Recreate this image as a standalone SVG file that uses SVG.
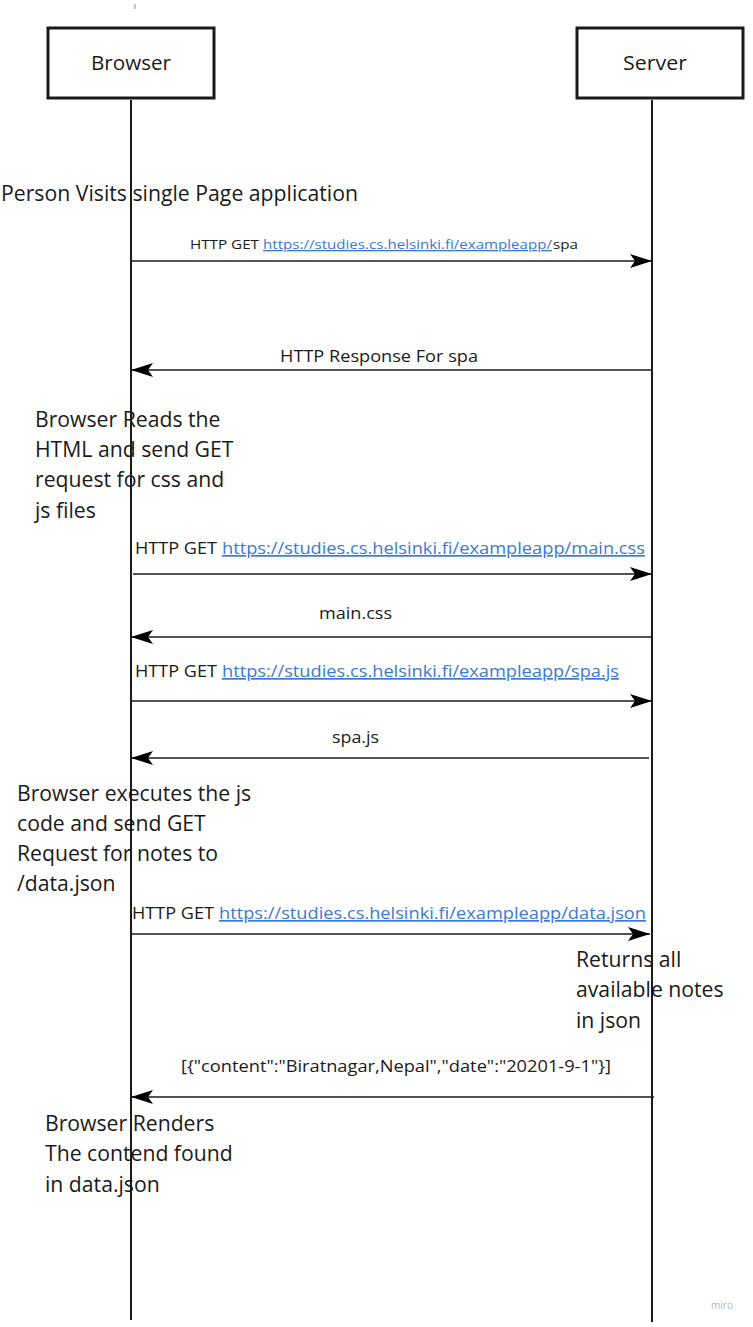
<svg xmlns="http://www.w3.org/2000/svg" width="753" height="1327" viewBox="0 0 753 1327">
<style>
text{font-family:"Open Sans","Noto Sans","DejaVu Sans",sans-serif;fill:#1a1a1a}
.box{fill:#fff;stroke:#1a1a1a;stroke-width:3}
.life{stroke:#1a1a1a;stroke-width:2;fill:none}
.msg{stroke:#1a1a1a;stroke-width:1.6;fill:none}
.lbl{font-size:17px}
.note{font-size:21.2px}
.link{fill:#3b78d8;text-decoration:underline}
</style>
<defs>
<marker id="ah" viewBox="0 0 22 14" refX="22" refY="7" markerWidth="22" markerHeight="14" markerUnits="userSpaceOnUse" orient="auto">
<path d="M0,0 L22,7 L0,14 L5,7 Z" fill="#000"/>
</marker>
</defs>
<rect width="753" height="1327" fill="#fff"/>
<line x1="135" y1="4" x2="135" y2="9" stroke="#888" stroke-width="1"/>
<g id="browser">
<rect class="box" x="48" y="28" width="166" height="70"/>
<text x="131" y="70" font-size="20" text-anchor="middle" textLength="80" lengthAdjust="spacingAndGlyphs">Browser</text>
<line class="life" x1="131" y1="100" x2="131" y2="1320"/>
</g>
<g id="server">
<rect class="box" x="577" y="28" width="166" height="70"/>
<text x="655" y="70" font-size="20" text-anchor="middle" textLength="64" lengthAdjust="spacingAndGlyphs">Server</text>
<line class="life" x1="652" y1="100" x2="652" y2="1322"/>
</g>
<g id="notes">
<text x="1" y="201" font-size="21" textLength="357" lengthAdjust="spacingAndGlyphs">Person Visits single Page application</text>
<text class="note" x="35" y="427">Browser Reads the</text>
<text class="note" x="35" y="457">HTML and send GET</text>
<text class="note" x="35" y="487">request for css and</text>
<text class="note" x="35" y="518">js files</text>
<text class="note" x="17" y="801">Browser executes the js</text>
<text class="note" x="17" y="831">code and send GET</text>
<text class="note" x="17" y="861">Request for notes to</text>
<text class="note" x="17" y="891">/data.json</text>
<text class="note" x="576" y="967">Returns all</text>
<text class="note" x="576" y="997">available notes</text>
<text class="note" x="576" y="1028">in json</text>
<text class="note" x="45" y="1131">Browser Renders</text>
<text class="note" x="45" y="1161">The contend found</text>
<text class="note" x="45" y="1192">in data.json</text>
</g>
<g id="connectors">
<line class="msg" x1="131" y1="261" x2="652" y2="261" marker-end="url(#ah)"/>
<line class="msg" x1="652" y1="370" x2="131" y2="370" marker-end="url(#ah)"/>
<line class="msg" x1="133" y1="574" x2="652" y2="574" marker-end="url(#ah)"/>
<line class="msg" x1="653" y1="637" x2="131" y2="637" marker-end="url(#ah)"/>
<line class="msg" x1="131" y1="701" x2="652" y2="701" marker-end="url(#ah)"/>
<line class="msg" x1="649" y1="758" x2="131" y2="758" marker-end="url(#ah)"/>
<line class="msg" x1="131" y1="934" x2="650" y2="934" marker-end="url(#ah)"/>
<line class="msg" x1="654" y1="1097" x2="131" y2="1097" marker-end="url(#ah)"/>
</g>
<g id="labels">
<text x="190" y="249" font-size="13" textLength="69" lengthAdjust="spacingAndGlyphs">HTTP GET</text>
<text class="link" x="263" y="249" font-size="13" textLength="289" lengthAdjust="spacingAndGlyphs">https://studies.cs.helsinki.fi/exampleapp/</text>
<text x="553" y="249" font-size="13" textLength="25" lengthAdjust="spacingAndGlyphs">spa</text>
<text class="lbl" x="280" y="362" font-size="16" textLength="198" lengthAdjust="spacingAndGlyphs">HTTP Response For spa</text>
<text class="lbl" x="135" y="554" textLength="82" lengthAdjust="spacingAndGlyphs">HTTP GET</text>
<text class="lbl link" x="222" y="554" textLength="423" lengthAdjust="spacingAndGlyphs">https://studies.cs.helsinki.fi/exampleapp/main.css</text>
<text class="lbl" x="319" y="619" textLength="73" lengthAdjust="spacingAndGlyphs">main.css</text>
<text class="lbl" x="135" y="677" textLength="82" lengthAdjust="spacingAndGlyphs">HTTP GET</text>
<text class="lbl link" x="222" y="677" textLength="397" lengthAdjust="spacingAndGlyphs">https://studies.cs.helsinki.fi/exampleapp/spa.js</text>
<text class="lbl" x="332" y="743" textLength="47" lengthAdjust="spacingAndGlyphs">spa.js</text>
<text class="lbl" x="132" y="919" textLength="82" lengthAdjust="spacingAndGlyphs">HTTP GET</text>
<text class="lbl link" x="219" y="919" textLength="427" lengthAdjust="spacingAndGlyphs">https://studies.cs.helsinki.fi/exampleapp/data.json</text>
<text class="lbl" x="181" y="1072" textLength="430" lengthAdjust="spacingAndGlyphs">[{"content":"Biratnagar,Nepal","date":"20201-9-1"}]</text>
</g>
<text x="722" y="1309" font-size="10" style="fill:#b5b5bd" text-anchor="middle">miro</text>
</svg>
